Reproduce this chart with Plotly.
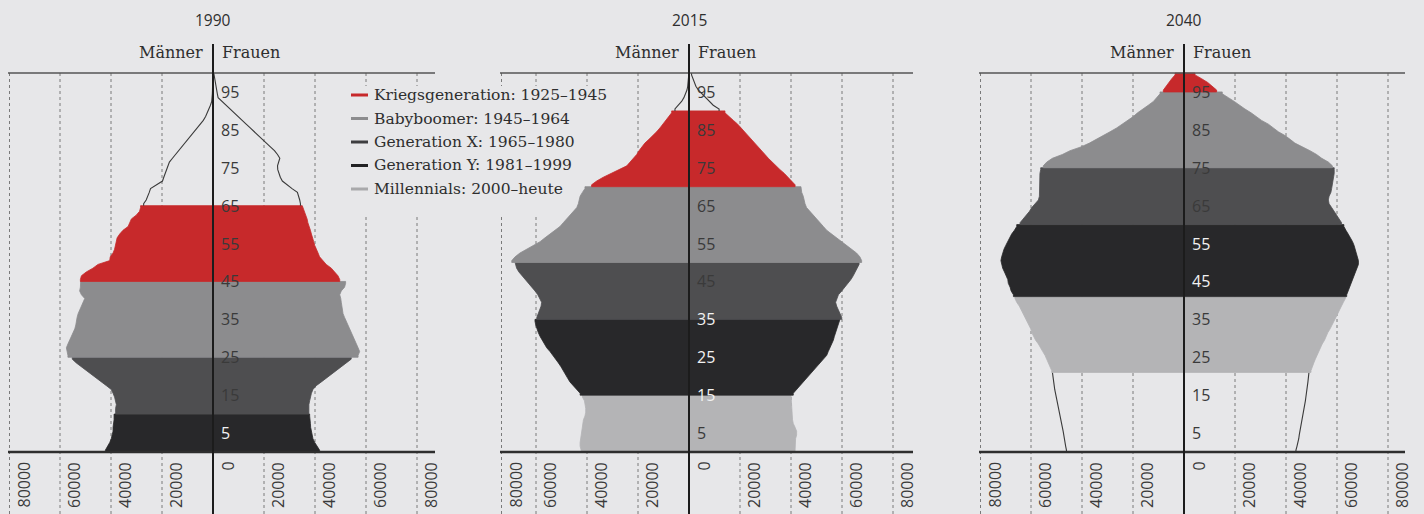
import plotly.graph_objects as go

# ---------------- data ----------------
YEARS = ["1990", "2015", "2040"]
AGE_TICKS = [5, 15, 25, 35, 45, 55, 65, 75, 85, 95]
X_TICKS = [-80000, -60000, -40000, -20000, 0, 20000, 40000, 60000, 80000]
X_TICK_LABELS = ["80000", "60000", "40000", "20000", "0", "20000", "40000", "60000", "80000"]

GEN_KEYS = ["KG", "BB", "GX", "GY", "MI"]
GEN_LABELS = ["Kriegsgeneration: 1925–1945", "Babyboomer: 1945–1964",
              "Generation X: 1965–1980", "Generation Y: 1981–1999",
              "Millennials: 2000–heute"]

# band (generation, first age, last age + 1) per year; None = outline only
BANDS_1990 = [("GY", 0, 10), ("GX", 10, 25), ("BB", 25, 45), ("KG", 45, 65), (None, 65, 100)]
BANDS_2015 = [("MI", 0, 15), ("GY", 15, 35), ("GX", 35, 50), ("BB", 50, 70), ("KG", 70, 90), (None, 90, 100)]
BANDS_2040 = [(None, 0, 21), ("MI", 21, 41), ("GY", 41, 60), ("GX", 60, 75), ("BB", 75, 95), ("KG", 95, 100)]

# population per single year of age 0..99 (Männer / Frauen)
MEN_1990 = [42200, 41200, 40500, 39900, 39500, 39200, 39200, 38900, 38800, 38800,
            38200, 38200, 37900, 38200, 38600, 39200, 39900, 41800, 43800, 45700,
            47700, 49700, 51600, 53600, 55200, 56900, 57200, 57500, 56900, 56200,
            55500, 54900, 54200, 53800, 53600, 53300, 52900, 52300, 51600, 51000,
            50300, 51600, 52300, 52000, 51900, 52000, 51600, 49700, 47100, 45100,
            40500, 40300, 39200, 38600, 38200, 37900, 37600, 36600, 35300, 33300,
            32700, 32000, 30100, 28800, 28400, 27200, 26200, 25500, 25000, 24500,
            22000, 19800, 19300, 18800, 18300, 17700, 17100, 15900, 14700, 13400,
            12200, 11000, 9700, 8700, 7300, 6000, 4900, 3800, 2900, 2200,
            1600, 1000, 500, 300, 250, 200, 150, 100, 80, 50]
WOMEN_1990 = [41800, 40800, 39900, 39200, 38800, 38600, 38300, 38200, 37900, 37900,
              37600, 37600, 37600, 37900, 38200, 38600, 39200, 40500, 42500, 44400,
              46400, 48400, 50300, 52300, 54200, 56900, 57500, 56900, 56200, 55500,
              54900, 54200, 53600, 52900, 52300, 51600, 51000, 50700, 50300, 50300,
              50100, 49700, 50300, 51600, 52000, 49700, 49000, 47700, 46400, 44400,
              43100, 41800, 41200, 40500, 39900, 39500, 39200, 38600, 38200, 37600,
              37200, 36900, 36300, 35900, 35000, 34300, 34000, 33600, 33100, 31000,
              29000, 27200, 26400, 25900, 25400, 25300, 25900, 26200, 25300, 24100,
              22500, 21000, 19400, 17800, 16200, 14600, 13000, 11400, 9800, 8200,
              6600, 5000, 3400, 2000, 1700, 1400, 1100, 800, 500, 300]

MEN_2015 = [42300, 42700, 42700, 42500, 42300, 42300, 42100, 41800, 41400, 40800,
            40500, 40500, 40800, 41000, 41800, 42700, 44000, 45400, 46700, 47600,
            48400, 49300, 50200, 51200, 52300, 53200, 54500, 55800, 56700, 57800,
            58400, 59100, 59700, 60100, 60400, 59700, 59100, 58400, 58000, 57800,
            58400, 59300, 60400, 61700, 63000, 64300, 65600, 66700, 67600, 68200,
            69500, 68200, 66300, 63600, 61000, 58400, 56500, 54500, 52500, 50600,
            49300, 48000, 46700, 45400, 44000, 43400, 43100, 42700, 41800, 40800,
            38200, 36200, 33600, 30300, 27100, 24400, 23100, 21800, 20500, 19600,
            18600, 17300, 15700, 14000, 12700, 11400, 10300, 9000, 7800, 6800,
            5500, 4200, 2900, 2000, 1300, 800, 500, 300, 200, 100]
WOMEN_2015 = [41600, 41600, 41800, 41800, 42200, 42200, 41600, 40900, 40600, 40500,
              40300, 40300, 40300, 40000, 40000, 40900, 42200, 43500, 44800, 46100,
              47400, 48800, 50100, 51400, 52700, 54000, 54600, 55300, 55900, 56600,
              57000, 57500, 57900, 58600, 59200, 59900, 59200, 58300, 57900, 57500,
              57900, 58600, 59900, 61200, 62500, 63500, 64400, 65100, 66100, 66700,
              67700, 67000, 65700, 63800, 61800, 59900, 57900, 55900, 54000, 52700,
              51400, 50100, 48800, 47400, 46100, 45500, 45200, 44800, 44200, 43900,
              41600, 40300, 38900, 37400, 35700, 34100, 32400, 31100, 29800, 28500,
              27200, 25900, 24600, 23300, 22000, 20700, 19100, 17400, 15700, 14100,
              11800, 9500, 8000, 6300, 5000, 3700, 2700, 2100, 1600, 1000]

MEN_2040 = [46100, 46400, 46600, 46900, 47200, 47400, 47700, 48000, 48500, 48800,
            49100, 49400, 49600, 49900, 50100, 50400, 50700, 50900, 51100, 51400,
            51600, 51900, 52500, 53200, 53800, 54500, 55400, 56200, 57100, 58200,
            59100, 59700, 60100, 60800, 61700, 62300, 63000, 63700, 64600, 65600,
            66300, 66900, 67800, 68200, 68900, 69100, 69900, 70400, 71100, 71500,
            71800, 71500, 71100, 70600, 69900, 69100, 68500, 67600, 66500, 65600,
            64300, 63000, 61700, 60600, 59700, 58400, 57100, 56700, 56700, 56500,
            56500, 56500, 56500, 56500, 56200, 55200, 53800, 51600, 47700, 44700,
            40400, 37100, 34200, 31600, 29000, 26400, 24200, 21800, 19900, 18200,
            15900, 14000, 12000, 10700, 9400, 8100, 7100, 5900, 4800, 3500]
WOMEN_2040 = [43900, 44300, 44700, 45000, 45200, 45500, 45700, 46000, 46300, 46500,
              46800, 47000, 47300, 47600, 47800, 48100, 48200, 48400, 48600, 48800,
              49000, 49800, 50500, 50900, 51500, 52100, 52700, 53400, 54200, 55100,
              55700, 56400, 57300, 58100, 59000, 59700, 60300, 61000, 61600, 62500,
              63300, 63800, 64400, 65100, 65700, 66100, 66700, 67300, 68000, 68400,
              68400, 68000, 67700, 67300, 66700, 66100, 65400, 64400, 63500, 62700,
              61800, 60900, 59900, 58900, 57900, 56900, 56600, 56900, 57600, 57900,
              58200, 58300, 58600, 58900, 58900, 58200, 56600, 54000, 52000, 49400,
              46100, 43500, 41600, 39600, 37000, 35000, 33100, 30400, 28500, 26300,
              23900, 21900, 19700, 17400, 15000, 12800, 11100, 9300, 6900, 4300]

MEN = [MEN_1990, MEN_2015, MEN_2040]
WOMEN = [WOMEN_1990, WOMEN_2015, WOMEN_2040]
BANDS = [BANDS_1990, BANDS_2015, BANDS_2040]

# ---------------- style / layout ----------------
W, H = 1424, 514
BG = "#e7e7e9"
COLORS = {"KG": "#c7292b", "BB": "#8c8c8e", "GX": "#4e4e50", "GY": "#28282a", "MI": "#b4b4b6"}
LEGEND_COLORS = {"KG": "#c7292b", "BB": "#8c8c8e", "GX": "#3e3e40", "GY": "#222224", "MI": "#a9a9ab"}
SERIF = "DejaVu Serif"
SANS = "Open Sans"
TXT = "#2e2e2e"

Y0_PX = 452.0          # pixel row of age 0
PPY = 3.79             # pixels per year of age
UPP = 20000 / 51.0     # persons per pixel horizontally
YR = [-(H - Y0_PX) / PPY, Y0_PX / PPY]

CENTER_PX = [213, 689, 1184]
LEFT_PX = [8, 500, 979]
RIGHT_PX = [435, 913, 1405]


def age_at(px):
    return (Y0_PX - px) / PPY


def val_at(p, px):
    return (px - CENTER_PX[p]) * UPP


fig = go.Figure()
shapes = []
annotations = []

for p in range(3):
    xa = "x" if p == 0 else f"x{p + 1}"
    xmin, xmax = val_at(p, LEFT_PX[p]), val_at(p, RIGHT_PX[p])
    men, women = MEN[p], WOMEN[p]

    def band_of(age, bands=BANDS[p]):
        for key, a0, a1 in bands:
            if a0 <= age < a1:
                return key
        return None

    # filled generation bands / outline-only parts
    for key, a0, a1 in BANDS[p]:
        ages = list(range(a0, a1))
        for sign, vals in ((-1, men), (1, women)):
            edge_x = [sign * vals[a0]] + [sign * vals[a] for a in ages] + [sign * vals[a1 - 1]]
            edge_y = [a0] + [a + 0.5 for a in ages] + [a1]
            if key is not None:
                col = COLORS[key]
                fig.add_trace(go.Scatter(
                    x=[0] + edge_x + [0], y=[a0] + edge_y + [a1], mode="lines",
                    fill="toself", fillcolor=col, line=dict(color=col, width=0.8),
                    xaxis=xa, yaxis="y", hoverinfo="skip", showlegend=False))
            else:
                fig.add_trace(go.Scatter(
                    x=edge_x, y=edge_y, mode="lines", line=dict(color="#3a3a3a", width=1.1),
                    xaxis=xa, yaxis="y", hoverinfo="skip", showlegend=False))

    # dashed grid lines and rotated value labels
    for t, lab in zip(X_TICKS, X_TICK_LABELS):
        gx = max(t, xmin + 1.5 * UPP)
        if t != 0:
            shapes.append(dict(type="line", xref=xa, yref="y", x0=gx, x1=gx, y0=YR[0], y1=100,
                               line=dict(color="#7a7a7a", width=1, dash="3px,3px"), layer="below"))
        annotations.append(dict(xref=xa, yref="y", x=gx, y=0, text=lab, showarrow=False,
                                textangle=-90, xanchor="center", yanchor="top",
                                xshift=14, yshift=-8,
                                font=dict(family=SANS, size=16, color="#3a3a3a")))

    # legend background covering the grid lines
    if p == 0:
        shapes.append(dict(type="rect", xref=xa, yref="y", x0=val_at(p, 342), x1=xmax,
                           y0=age_at(214), y1=age_at(86), fillcolor=BG, line=dict(width=0),
                           layer="below"))
    if p == 1:
        shapes.append(dict(type="rect", xref=xa, yref="y", x0=xmin, x1=val_at(p, 618),
                           y0=age_at(214), y1=age_at(86), fillcolor=BG, line=dict(width=0),
                           layer="below"))

    # frame lines
    shapes.append(dict(type="line", xref=xa, yref="y", x0=xmin, x1=xmax, y0=100, y1=100,
                       line=dict(color="#555555", width=1.3), layer="above"))
    shapes.append(dict(type="line", xref=xa, yref="y", x0=xmin, x1=xmax, y0=0, y1=0,
                       line=dict(color="#2e2e2e", width=2.6), layer="above"))
    shapes.append(dict(type="line", xref=xa, yref="y", x0=0, x1=0, y0=YR[0], y1=age_at(44),
                       line=dict(color="#1c1c1c", width=2), layer="above"))

    # age labels
    for a in AGE_TICKS:
        dark_band = band_of(a) == "GY" or band_of(a - 1) == "GY"
        annotations.append(dict(xref=xa, yref="y", x=0, y=a, text=str(a), showarrow=False,
                                xanchor="left", yanchor="middle", xshift=6,
                                font=dict(family=SANS, size=16,
                                          color="#f2f2f2" if dark_band else "#3a3a3a")))

    # titles and headers
    annotations.append(dict(xref=xa, yref="y", x=0, y=age_at(20), text=YEARS[p], showarrow=False,
                            xanchor="center", yanchor="middle",
                            font=dict(family=SANS, size=15.5, color=TXT)))
    annotations.append(dict(xref=xa, yref="y", x=0, y=age_at(52), text="Männer", showarrow=False,
                            xanchor="right", yanchor="middle", xshift=-8,
                            font=dict(family=SERIF, size=16, color=TXT)))
    annotations.append(dict(xref=xa, yref="y", x=0, y=age_at(52), text="Frauen", showarrow=False,
                            xanchor="left", yanchor="middle", xshift=7,
                            font=dict(family=SERIF, size=16, color=TXT)))

# manual legend
LEG_ROWS_PX = [95, 118.5, 142, 165.5, 189]
for key, lab, ypx in zip(GEN_KEYS, GEN_LABELS, LEG_ROWS_PX):
    yp = 1 - ypx / H
    shapes.append(dict(type="line", xref="paper", yref="paper", x0=351 / W, x1=368 / W,
                       y0=yp, y1=yp, line=dict(color=LEGEND_COLORS[key], width=3), layer="above"))
    annotations.append(dict(xref="paper", yref="paper", x=372 / W, y=yp, text=lab,
                            showarrow=False, xanchor="left", yanchor="middle",
                            font=dict(family=SERIF, size=15.5, color=TXT)))

axis_common = dict(visible=False, showgrid=False, zeroline=False, fixedrange=True)
layout = dict(
    width=W, height=H, margin=dict(l=0, r=0, t=0, b=0),
    paper_bgcolor=BG, plot_bgcolor=BG, showlegend=False,
    yaxis=dict(range=YR, domain=[0, 1], **axis_common),
    shapes=shapes, annotations=annotations,
)
for p in range(3):
    name = "xaxis" if p == 0 else f"xaxis{p + 1}"
    layout[name] = dict(range=[val_at(p, LEFT_PX[p]), val_at(p, RIGHT_PX[p])],
                        domain=[LEFT_PX[p] / W, RIGHT_PX[p] / W], anchor="y", **axis_common)
fig.update_layout(**layout)

fig.write_html("out.html", config={"displayModeBar": False},
               post_script="document.body.style.margin='0px';"
                           "document.body.style.overflow='hidden';"
                           "document.body.style.background='" + BG + "';")
